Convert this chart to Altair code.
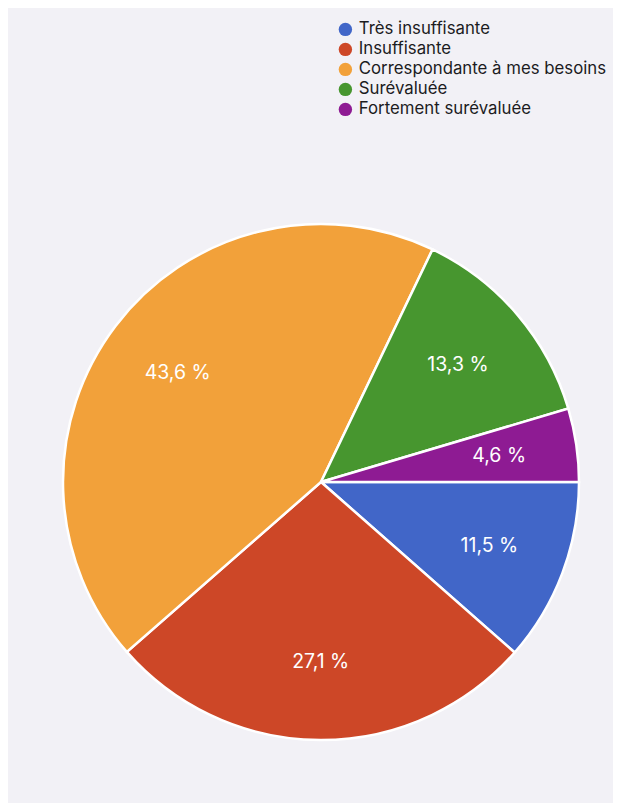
import math
import altair as alt
import pandas as pd

categories = ["Très insuffisante", "Insuffisante", "Correspondante à mes besoins", "Surévaluée", "Fortement surévaluée"]
values = [11.5, 27.1, 43.6, 13.3, 4.6]
colors = ["#4166c8", "#cd4727", "#f2a13a", "#47962f", "#8e1b93"]
labels = [f"{v:.1f}".replace(".", ",") + " %" for v in values]

df = pd.DataFrame({"cat": categories, "value": values, "label": labels, "idx": list(range(len(values)))})

theta = alt.Theta("value:Q", stack=True, scale=alt.Scale(range=[math.pi / 2, math.pi / 2 + 2 * math.pi]))
color = alt.Color("cat:N", scale=alt.Scale(domain=categories, range=colors), sort=categories,
                  legend=alt.Legend(title=None, orient="none", legendX=329, legendY=13,
                                    symbolType="circle", symbolSize=180, labelFontSize=16.8,
                                    labelFont="Inter", labelColor="#1c1c1e", labelOffset=5,
                                    rowPadding=2, symbolStrokeWidth=0, labelLimit=400))
order = alt.Order("idx:Q")

cx = alt.value(313)
cy = alt.value(474)

base = alt.Chart(df)
pie = base.mark_arc(outerRadius=258, stroke="white", strokeWidth=2.5).encode(
    theta=theta, color=color, order=order, x=cx, y=cy)
text = base.mark_text(radius=180, fontSize=19.5, font="Inter", color="white").encode(
    theta=theta, text="label:N", order=order, x=cx, y=cy)

chart = (pie + text).properties(
    width=605, height=795,
    autosize=alt.AutoSizeParams(type="fit", contains="padding"),
    padding=0,
    background="#f2f1f6",
).configure_view(stroke=None)

chart.save("out.html", embed_options={"renderer": "svg", "actions": False})
